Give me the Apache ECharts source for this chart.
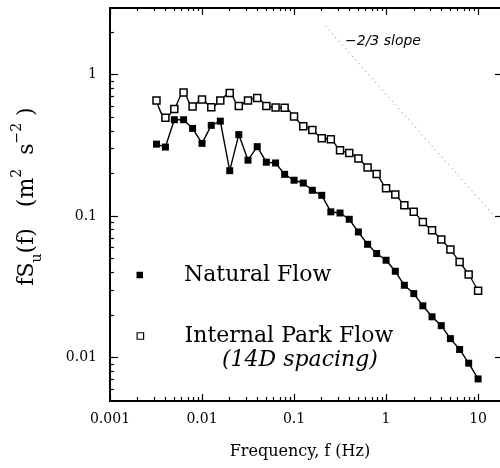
<!DOCTYPE html>
<html><head><meta charset="utf-8">
<script src="https://cdn.jsdelivr.net/npm/echarts@6/dist/echarts.min.js"></script>
<style>html,body{margin:0;padding:0;background:#fff}#c{width:500px;height:468px}</style>
</head><body><div id="c"></div>
<script>
// ---- data ----
const freq = [0.0032,0.004,0.005,0.0063,0.0079,0.01,0.0126,0.0158,0.02,0.0251,0.0316,0.0398,0.05,0.063,0.079,0.1,0.126,0.158,0.2,0.251,0.316,0.398,0.5,0.63,0.79,1,1.26,1.58,2,2.51,3.16,3.98,5,6.3,7.9,10];
const parkFlow = [0.655,0.495,0.571,0.746,0.594,0.666,0.588,0.655,0.740,0.600,0.655,0.683,0.600,0.585,0.582,0.505,0.430,0.406,0.355,0.348,0.291,0.279,0.255,0.220,0.198,0.157,0.142,0.119,0.107,0.0907,0.0792,0.0681,0.0579,0.0473,0.0386,0.0297];
const naturalFlow = [0.322,0.307,0.479,0.479,0.416,0.326,0.437,0.468,0.209,0.376,0.248,0.309,0.240,0.237,0.197,0.179,0.171,0.152,0.140,0.107,0.105,0.0948,0.0771,0.0631,0.0543,0.0487,0.0407,0.0324,0.0283,0.0232,0.0194,0.0168,0.0136,0.0114,0.00912,0.00706];
const slopeX = [0.22, 15];
const slopeY = [2.2, 0.1];
const xMajor = [0.001, 0.01, 0.1, 1, 10];
const xLabels = ['0.001', '0.01', '0.1', '1', '10'];
const xMinor = [0.002,0.003,0.004,0.005,0.006,0.007,0.008,0.009,0.02,0.03,0.04,0.05,0.06,0.07,0.08,0.09,0.2,0.3,0.4,0.5,0.6,0.7,0.8,0.9,2,3,4,5,6,7,8,9];
const yMajor = [0.01, 0.1, 1];
const yLabels = ['0.01', '0.1', '1'];
const yMinor = [0.006,0.007,0.008,0.009,0.02,0.03,0.04,0.05,0.06,0.07,0.08,0.09,0.2,0.3,0.4,0.5,0.6,0.7,0.8,0.9,2];
const xRange = [0.001, 17.3];
const yRange = [0.00493, 2.95];

const SERIF = "'DejaVu Serif', 'Liberation Serif', serif";
function pick(vals, labels) {
  return function (v) {
    for (let i = 0; i < vals.length; i++) {
      if (Math.abs(Math.log10(v) - Math.log10(vals[i])) < 1e-6) return labels[i];
    }
    return '';
  };
}
const gridRect = { left: 110, top: 8, width: 390, height: 393 };
function xAx(grid, pos, ticks, len, withLabel, lineShow) {
  return {
    type: 'log', logBase: 10, gridIndex: grid, position: pos, min: xRange[0], max: xRange[1],
    axisLine: { show: lineShow, onZero: false, lineStyle: { color: '#000', width: 2 } },
    axisTick: { show: true, inside: true, length: len, customValues: ticks, lineStyle: { color: '#000', width: 1.2 } },
    axisLabel: withLabel ? { show: true, customValues: xMajor, formatter: pick(xMajor, xLabels), fontFamily: SERIF, fontSize: 14, color: '#000', margin: 11 } : { show: false },
    splitLine: { show: false }, minorTick: { show: false }
  };
}
function yAx(grid, pos, ticks, len, withLabel, lineShow) {
  return {
    type: 'log', logBase: 10, gridIndex: grid, position: pos, min: yRange[0], max: yRange[1],
    axisLine: { show: lineShow, onZero: false, lineStyle: { color: '#000', width: 2 } },
    axisTick: { show: true, inside: true, length: len, customValues: ticks, lineStyle: { color: '#000', width: 1.2 } },
    axisLabel: withLabel ? { show: true, customValues: yMajor, formatter: pick(yMajor, yLabels), fontFamily: SERIF, fontSize: 14, color: '#000', margin: 13 } : { show: false },
    splitLine: { show: false }, minorTick: { show: false }
  };
}
const xAxes = [
  Object.assign(xAx(0, 'bottom', xMajor, 7, true, true), {
    name: 'Frequency, f (Hz)', nameLocation: 'middle', nameGap: 43,
    nameTextStyle: { fontFamily: SERIF, fontSize: 16, color: '#000', padding: [0, 10, 0, 0] }
  }),
  xAx(0, 'top', xMajor, 7, false, true),
  xAx(1, 'bottom', xMinor, 4, false, false),
  xAx(1, 'top', xMinor, 3, false, false)
];
const yAxes = [
  Object.assign(yAx(0, 'left', yMajor, 8, true, true), {
    name: '{m|fS}{sub|u}{m|(f)   (m}{sup|2}{m|  s}{sup|\u22122}{m| )}',
    nameLocation: 'middle', nameGap: 66, nameRotate: 90,
    nameTextStyle: {
      padding: [0, 0, 0, 16],
      rich: {
        m: { fontFamily: SERIF, fontSize: 22, color: '#000', lineHeight: 34 },
        sub: { fontFamily: SERIF, fontSize: 14, color: '#000', lineHeight: 14, verticalAlign: 'bottom' },
        sup: { fontFamily: SERIF, fontSize: 14, color: '#000', lineHeight: 14, verticalAlign: 'top' }
      }
    }
  }),
  yAx(0, 'right', yMajor, 5, false, false)
];
yAxes.push(yAx(1, 'left', yMinor, 4, false, false));

const option = {
  animation: false,
  backgroundColor: '#fff',
  grid: [Object.assign({}, gridRect), Object.assign({}, gridRect)],
  xAxis: xAxes,
  yAxis: yAxes,
  legend: [
    {
      data: [{ name: 'Natural Flow', icon: 'rect', itemStyle: { color: '#000' } }],
      left: 136.5, top: 264, padding: 0, itemWidth: 6.5, itemHeight: 6.5, itemGap: 0,
      selectedMode: false,
      textStyle: { fontFamily: SERIF, fontSize: 22, color: '#000', padding: [0, 0, 0, 36] }
    },
    {
      data: [{ name: 'Internal Park Flow', icon: 'rect', itemStyle: { color: '#fff', borderColor: '#000', borderWidth: 1.2 } }],
      left: 136.5, top: 325, padding: 0, itemWidth: 6.5, itemHeight: 6.5, itemGap: 0,
      selectedMode: false,
      textStyle: { fontFamily: SERIF, fontSize: 22, color: '#000', padding: [0, 0, 0, 36] }
    }
  ],
  graphic: [
    { type: 'text', left: 222, top: 349, style: { text: '(14D spacing)', font: "italic 22px 'DejaVu Serif', serif", fill: '#000' } },
    { type: 'text', left: 345, top: 34, style: { text: '\u22122/3 slope', font: "italic 14px 'DejaVu Sans', sans-serif", fill: '#000' } }
  ],
  series: [
    {
      name: 'slope', type: 'line', xAxisIndex: 0, yAxisIndex: 0,
      data: slopeX.map((x, i) => [x, slopeY[i]]),
      symbol: 'none', silent: true,
      lineStyle: { color: '#777', width: 1, type: [1, 4] }, z: 1
    },
    {
      name: 'Internal Park Flow', type: 'line', xAxisIndex: 0, yAxisIndex: 0,
      data: freq.map((x, i) => [x, parkFlow[i]]),
      symbol: 'rect', symbolSize: 7, showAllSymbol: true, smooth: 0.35,
      itemStyle: { color: '#fff', borderColor: '#000', borderWidth: 1.5 },
      lineStyle: { color: '#000', width: 1.3 }, z: 3
    },
    {
      name: 'Natural Flow', type: 'line', xAxisIndex: 0, yAxisIndex: 0,
      data: freq.map((x, i) => [x, naturalFlow[i]]),
      symbol: 'rect', symbolSize: 7, showAllSymbol: true,
      itemStyle: { color: '#000', borderWidth: 0 },
      lineStyle: { color: '#000', width: 1.4 }, z: 3
    }
  ]
};
const chart = echarts.init(document.getElementById('c'), null, { renderer: 'canvas' });
chart.setOption(option);
</script></body></html>
